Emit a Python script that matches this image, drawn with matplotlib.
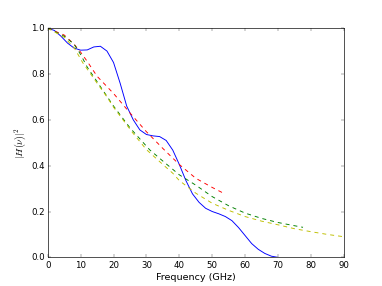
import matplotlib
matplotlib.use('Agg')
import matplotlib.pyplot as plt

# data (frequency in GHz, |H|^2)
blue_f = [0, 2, 4, 6, 8, 10, 12, 14, 16, 18, 20, 22, 24, 26, 28, 30, 32, 34,
          36, 38, 40, 42, 44, 46, 48, 50, 52, 54, 56, 58, 60, 62, 64, 66, 68, 70]
blue_h = [1.0, 0.99, 0.965, 0.935, 0.913, 0.904, 0.905, 0.918, 0.921, 0.900,
          0.850, 0.760, 0.660, 0.600, 0.556, 0.536, 0.530, 0.527, 0.510, 0.468,
          0.405, 0.335, 0.277, 0.240, 0.214, 0.200, 0.190, 0.178, 0.160, 0.130,
          0.095, 0.060, 0.035, 0.017, 0.005, 0.0]

red_f = [0, 5, 8, 10, 12, 15, 20, 25, 30, 35, 40, 45, 50, 53]
red_h = [1.0, 0.97, 0.93, 0.895, 0.855, 0.79, 0.715, 0.630, 0.548, 0.475,
         0.405, 0.345, 0.305, 0.283]

green_f = [0, 5, 8, 10, 12, 16, 20, 22, 25, 31, 35, 40, 45, 50, 55, 60, 65,
           70, 75, 77.6]
green_h = [1.0, 0.965, 0.93, 0.885, 0.83, 0.745, 0.66, 0.622, 0.565, 0.469,
           0.42, 0.36, 0.315, 0.265, 0.225, 0.193, 0.17, 0.152, 0.138, 0.131]

yellow_f = [0, 5, 8, 10.7, 15, 18, 20, 25.9, 30, 35, 38, 40, 45, 50, 55, 60,
            65, 70, 75, 80, 85, 90]
yellow_h = [1.0, 0.96, 0.915, 0.848, 0.76, 0.70, 0.655, 0.542, 0.47, 0.405,
            0.367, 0.335, 0.28, 0.236, 0.205, 0.178, 0.158, 0.142, 0.125,
            0.112, 0.10, 0.09]

plt.style.use('classic')
fig, ax = plt.subplots(figsize=(8, 6), dpi=47.75)

lw = 1.4
ax.plot(blue_f, blue_h, 'b-', lw=lw)
ax.plot(red_f, red_h, 'r--', lw=lw)
ax.plot(green_f, green_h, 'g--', lw=lw)
ax.plot(yellow_f, yellow_h, 'y--', lw=lw)

ax.set_xlim(0, 90)
ax.set_ylim(0, 1)
ax.tick_params(labelsize=13)
ax.set_xlabel('Frequency (GHz)', fontsize=14.5)
ax.set_ylabel(r'$|H(\nu)|^2$', fontsize=15)

fig.savefig('out.png', dpi=47.75)
